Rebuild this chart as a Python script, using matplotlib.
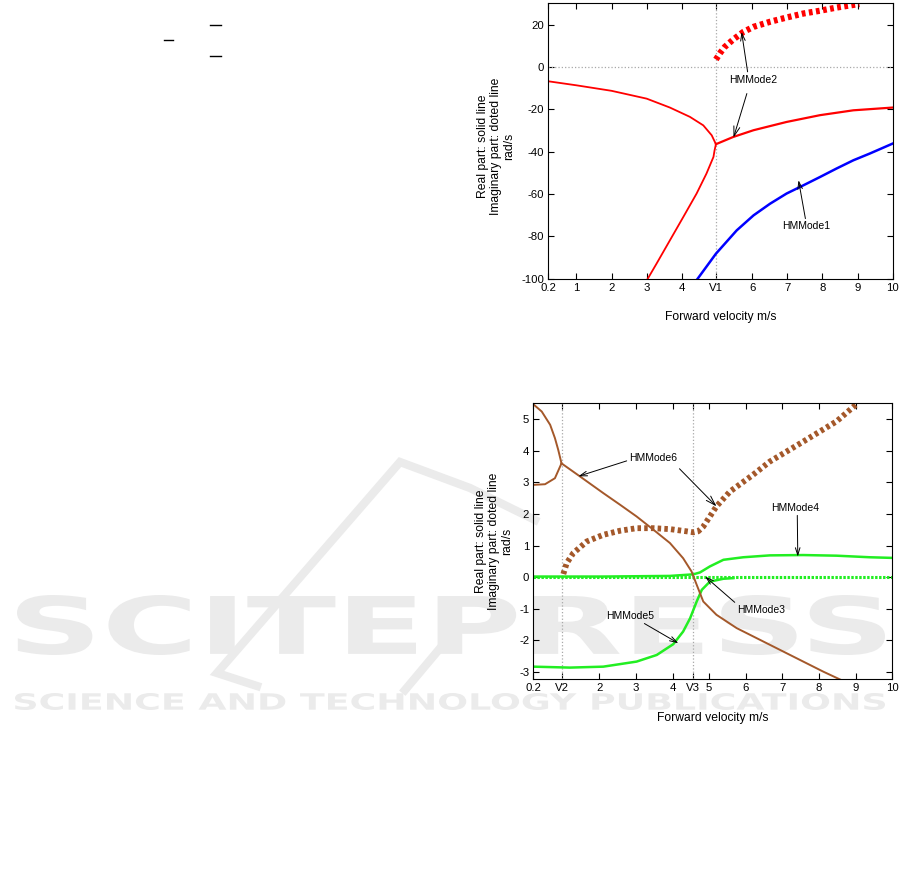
import matplotlib
matplotlib.use("Agg")
import matplotlib.pyplot as plt
from matplotlib.lines import Line2D
from matplotlib.textpath import TextPath
from matplotlib.patches import PathPatch
from matplotlib.font_manager import FontProperties
import matplotlib.transforms as mtransforms

plt.rcParams['font.family'] = ['Liberation Sans', 'DejaVu Sans']
plt.rcParams['axes.unicode_minus'] = False

# ---------------- data: top panel ----------------
V1 = 4.97
top_xticks = [0.2, 1, 2, 3, 4, V1, 6, 7, 8, 9, 10]
top_xticklabels = ['0.2', '1', '2', '3', '4', 'V1', '6', '7', '8', '9', '10']
top_yticks = [-100, -80, -60, -40, -20, 0, 20]

red_up_x = [0.2, 1.0, 2.0, 3.0, 3.66, 4.23, 4.61, 4.85, 4.97]
red_up_y = [-6.8, -8.7, -11.3, -15.0, -19.2, -23.6, -27.6, -32.3, -36.5]
red_low_x = [4.97, 4.93, 4.9, 4.7, 4.42, 4.04, 3.66, 3.28, 3.03]
red_low_y = [-36.5, -39.5, -42.5, -50.4, -59.8, -70.9, -81.9, -92.9, -100]
red_right_x = [4.97, 5.46, 6.04, 6.98, 7.93, 8.88, 10.0]
red_right_y = [-36.5, -33.1, -29.9, -26.0, -22.8, -20.5, -19.2]
red_im_x = [4.97, 5.1, 5.22, 5.46, 5.75, 6.04, 6.51, 6.98, 7.46, 7.93, 8.4, 9.05]
red_im_y = [3.5, 6.8, 9.4, 12.9, 16.5, 18.9, 21.3, 23.3, 25.2, 26.5, 28.0, 29.7]
blue_x = [4.45, 4.97, 5.56, 6.04, 6.51, 6.98, 7.46, 7.93, 8.4, 8.88, 9.35, 10.0]
blue_y = [-100, -88.2, -77.2, -70.1, -64.6, -59.8, -55.9, -52.0, -48.0, -44.1, -40.9, -36.2]

# ---------------- data: bottom panel ----------------
V2 = 0.97
V3 = 4.57
bot_xticks = [0.2, V2, 2, 3, 4, V3, 5, 6, 7, 8, 9, 10]
bot_xticklabels = ['0.2', 'V2', '2', '3', '4', 'V3', '5', '6', '7', '8', '9', '10']
bot_yticks = [-3, -2, -1, 0, 1, 2, 3, 4, 5]

brA_x = [0.2, 0.43, 0.66, 0.79, 0.88, 0.97]
brA_y = [5.47, 5.24, 4.82, 4.4, 4.03, 3.6]
brB_x = [0.2, 0.52, 0.79, 0.97]
brB_y = [2.92, 2.94, 3.13, 3.6]
brC_x = [0.97, 1.47, 2.11, 2.57, 3.02, 3.48, 3.93, 4.29, 4.52, 4.66, 4.84, 5.2, 5.75, 6.66, 7.57, 8.12, 8.6]
brC_y = [3.6, 3.19, 2.66, 2.29, 1.92, 1.5, 1.08, 0.6, 0.18, -0.24, -0.77, -1.19, -1.61, -2.14, -2.67, -2.99, -3.25]
brIm_x = [1.02, 1.11, 1.29, 1.66, 2.11, 2.57, 3.02, 3.48, 3.93, 4.39, 4.57, 4.7, 4.84, 5.02, 5.2, 5.57, 6.2, 6.66, 7.57, 8.48, 9.0]
brIm_y = [0.1, 0.44, 0.76, 1.13, 1.34, 1.47, 1.55, 1.55, 1.52, 1.45, 1.42, 1.45, 1.6, 1.92, 2.24, 2.71, 3.24, 3.66, 4.29, 4.93, 5.45]
grD_x = [0.2, 2.11, 3.93, 4.57, 4.75, 5.02, 5.39, 5.93, 6.66, 7.57, 8.48, 9.39, 10.0]
grD_y = [0.02, 0.02, 0.04, 0.09, 0.15, 0.34, 0.55, 0.63, 0.69, 0.70, 0.68, 0.63, 0.61]
grE_x = [0.2, 1.2, 2.11, 3.02, 3.57, 4.02, 4.29, 4.48, 4.66, 4.8, 5.02, 5.39, 5.66]
grE_y = [-2.83, -2.86, -2.83, -2.67, -2.46, -2.12, -1.72, -1.3, -0.77, -0.4, -0.14, -0.05, -0.03]
grIm_x = [0.2, 5.0, 10.0]
grIm_y = [0.0, 0.0, 0.0]

RED = '#ff0000'
BLUE = '#0000ff'
BROWN = '#a4582a'
GREEN = '#22ee22'
GRAY = '#a8a8a8'
WMC = '#ebebeb'

W, H = 901, 886
fig = plt.figure(figsize=(W / 100, H / 100), dpi=100)


def fbox(l, t, r, b):
    return [l / W, 1 - b / H, (r - l) / W, (b - t) / H]


# background watermark
def watermark(text, x0, y0, x1, y1):
    tp = TextPath((0, 0), text, size=100, prop=FontProperties(family='DejaVu Sans', weight='bold'))
    bb = tp.get_extents()
    tr = (mtransforms.Affine2D().translate(-bb.x0, -bb.y0)
          .scale((x1 - x0) / W / bb.width, (y1 - y0) / H / bb.height)
          .translate(x0 / W, 1 - y1 / H))
    p = PathPatch(tr.transform_path(tp), transform=fig.transFigure, fc=WMC, ec='none', zorder=-5)
    fig.add_artist(p)


def wm_stroke(pts, lw=6):
    xs = [p[0] / W for p in pts]
    ys = [1 - p[1] / H for p in pts]
    fig.add_artist(Line2D(xs, ys, color=WMC, lw=lw, transform=fig.transFigure, zorder=-6,
                          solid_joinstyle='miter'))


wm_stroke([(257, 686), (217, 673), (400, 462), (470, 488), (535, 520)])
wm_stroke([(452, 634), (405, 690)])
watermark('SCITEPRESS', 17, 595, 885, 655)
watermark('SCIENCE AND TECHNOLOGY PUBLICATIONS', 15, 693, 885, 710)

# stray equation overbars top-left
for (xa, xb, yy) in [(164, 173, 40), (210, 221, 25), (210, 221, 56)]:
    fig.add_artist(Line2D([xa / W, xb / W], [1 - yy / H, 1 - yy / H], color='black', lw=1.0,
                          transform=fig.transFigure))

TICKFS = 8.2
LABFS = 8.7
ANNFS = 7.5
arrowprops = dict(arrowstyle='->,head_length=0.7,head_width=0.22', color='black', lw=0.7,
                  shrinkA=0, shrinkB=0)


def style_axes(ax):
    ax.set_facecolor('none')
    ax.tick_params(direction='in', top=True, right=True, length=4, width=0.8,
                   labelsize=TICKFS, pad=3)
    for s in ax.spines.values():
        s.set_linewidth(0.8)


ylabel_txt = 'Real part: solid line\nImaginary part: doted line\nrad/s'


def set_labels(ax, xlab_y, ylab_x, ylab_y):
    ax.set_xlabel('Forward velocity m/s', fontsize=LABFS, va='center')
    ax.xaxis.set_label_coords(0.5, xlab_y)
    ax.set_ylabel(ylabel_txt, fontsize=LABFS, linespacing=1.12, va='center')
    ax.yaxis.set_label_coords(ylab_x, ylab_y)


# ---------------- top axes ----------------
ax1 = fig.add_axes(fbox(548.3, 2.7, 892.7, 278.7))
style_axes(ax1)
ax1.set_xlim(0.2, 10)
ax1.set_ylim(-100, 30.3)
ax1.axvline(V1, color=GRAY, lw=0.9, ls=':')
ax1.axhline(0, color=GRAY, lw=0.9, ls=':')
ax1.plot(red_up_x, red_up_y, color=RED, lw=1.3)
ax1.plot(red_low_x, red_low_y, color=RED, lw=1.3)
ax1.plot(red_right_x, red_right_y, color=RED, lw=1.6)
ax1.plot(red_im_x, red_im_y, color=RED, lw=4.5, ls=(0, (0.6, 0.55)), dash_capstyle='butt')
ax1.plot(blue_x, blue_y, color=BLUE, lw=1.8)
ax1.set_xticks(top_xticks)
ax1.set_xticklabels(top_xticklabels)
ax1.set_yticks(top_yticks)
set_labels(ax1, -0.139, -0.153, 0.48)
ax1.annotate('HMMode2', xy=(5.7, 16.5), xytext=(6.02, -6.0), fontsize=ANNFS,
             ha='center', va='center', arrowprops=dict(arrowprops, relpos=(0.4, 1.0)))
ax1.annotate('', xy=(5.47, -33.4), xytext=(5.85, -12.6), arrowprops=arrowprops)
ax1.annotate('HMMode1', xy=(7.32, -53.5), xytext=(7.53, -75.3), fontsize=ANNFS,
             ha='center', va='center', arrowprops=dict(arrowprops, relpos=(0.5, 1.0)))

# ---------------- bottom axes ----------------
ax2 = fig.add_axes(fbox(533.3, 403.3, 892.3, 679.3))
style_axes(ax2)
ax2.set_xlim(0.2, 10)
ax2.set_ylim(-3.23, 5.5)
ax2.axvline(V2, color=GRAY, lw=0.9, ls=':')
ax2.axvline(V3, color=GRAY, lw=0.9, ls=':')
ax2.plot(grIm_x, grIm_y, color=GREEN, lw=2.2, ls=(0, (0.8, 0.5)))
ax2.plot(grD_x, grD_y, color=GREEN, lw=1.8)
ax2.plot(grE_x, grE_y, color=GREEN, lw=1.8)
ax2.plot(brA_x, brA_y, color=BROWN, lw=1.4)
ax2.plot(brB_x, brB_y, color=BROWN, lw=1.4)
ax2.plot(brC_x, brC_y, color=BROWN, lw=1.4)
ax2.plot(brIm_x, brIm_y, color=BROWN, lw=4.2, ls=(0, (0.6, 0.55)), dash_capstyle='butt')
ax2.set_xticks(bot_xticks)
ax2.set_xticklabels(bot_xticklabels)
ax2.set_yticks(bot_yticks)
set_labels(ax2, -0.139, -0.11, 0.5)
ax2.annotate('HMMode6', xy=(1.43, 3.19), xytext=(3.48, 3.77), fontsize=ANNFS,
             ha='center', va='center', arrowprops=dict(arrowprops, relpos=(0.0, 0.3)))
ax2.annotate('', xy=(5.2, 2.24), xytext=(4.19, 3.43), arrowprops=arrowprops)
ax2.annotate('HMMode4', xy=(7.42, 0.65), xytext=(7.34, 2.2), fontsize=ANNFS,
             ha='center', va='center', arrowprops=dict(arrowprops, relpos=(0.55, 0.0)))
ax2.annotate('HMMode3', xy=(4.89, 0.02), xytext=(6.43, -1.03), fontsize=ANNFS,
             ha='center', va='center', arrowprops=dict(arrowprops, relpos=(0.0, 1.0)))
ax2.annotate('HMMode5', xy=(4.16, -2.09), xytext=(2.84, -1.22), fontsize=ANNFS,
             ha='center', va='center', arrowprops=dict(arrowprops, relpos=(0.7, 0.0)))

fig.savefig('out.png', dpi=100)
